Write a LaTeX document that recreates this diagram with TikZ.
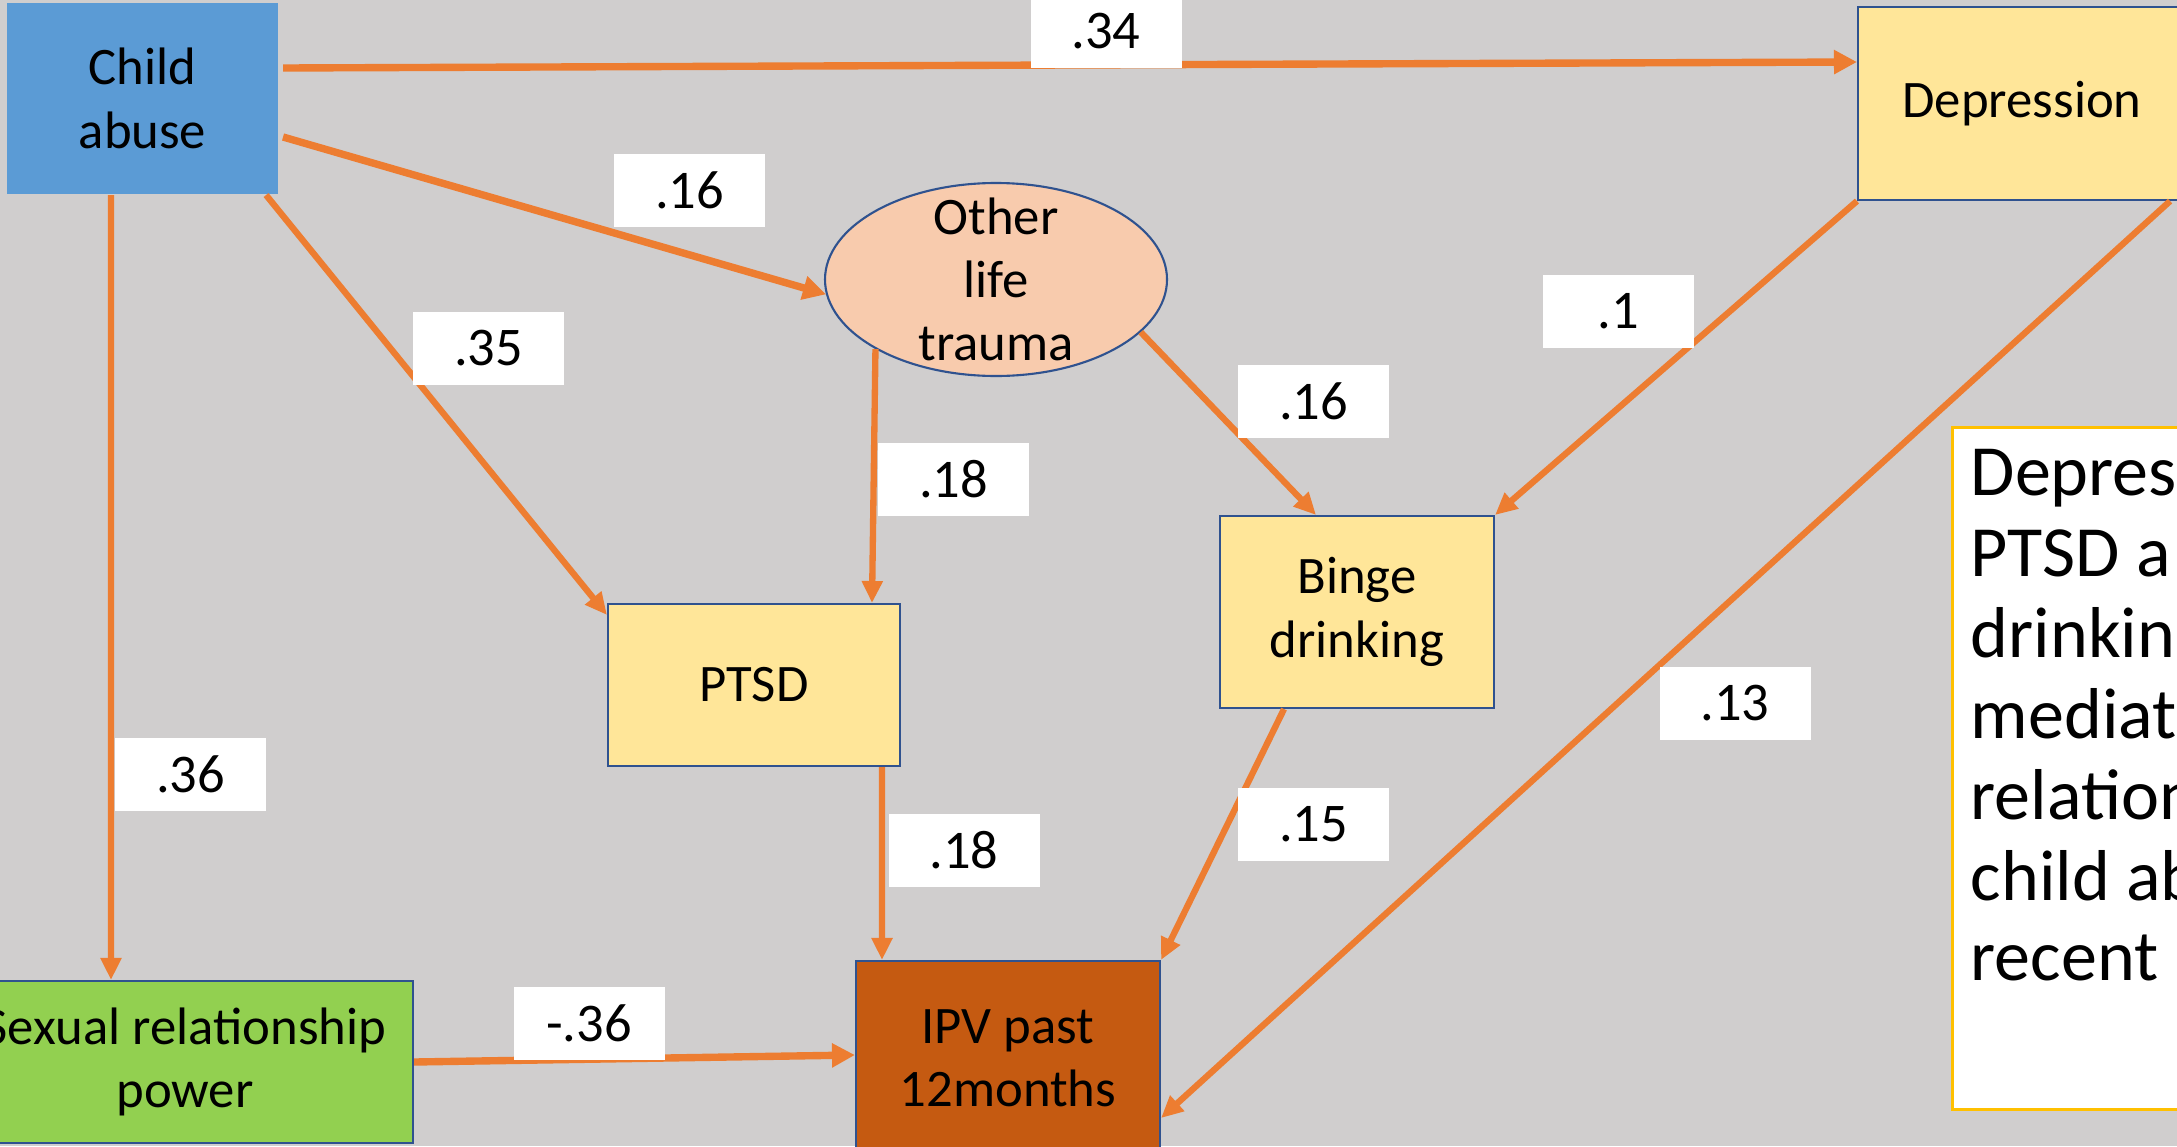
\documentclass[tikz,border=0pt]{standalone}
\usepackage{fontspec}
\setmainfont{Carlito}
\usetikzlibrary{positioning,arrows.meta,shapes.geometric}

\definecolor{bggray}{HTML}{D0CECE}
\definecolor{linkorange}{HTML}{ED7D31}
\definecolor{edgeblue}{HTML}{2F528F}
\definecolor{abuseblue}{HTML}{5B9BD5}
\definecolor{paleyellow}{HTML}{FFE699}
\definecolor{peach}{HTML}{F8CBAD}
\definecolor{rust}{HTML}{C55A11}
\definecolor{grassgreen}{HTML}{92D050}
\definecolor{notegold}{HTML}{FFC000}

\begin{document}
\begin{tikzpicture}[y=-1cm,
  box/.style={draw=edgeblue, line width=0.6pt, rectangle, align=center, inner sep=0pt, font=\fontsize{15}{18}\selectfont},
  coef/.style={fill=white, minimum width=1.51cm, minimum height=0.73cm, inner sep=0pt, font=\fontsize{15.5}{18}\selectfont},
  link/.style={draw=linkorange, line width=1.8pt, -{Triangle[length=0.22cm,width=0.2cm]}},
  biglink/.style={draw=linkorange, line width=2.1pt, -{Triangle[length=0.23cm,width=0.23cm]}}]
  \path[use as bounding box] (0,0) rectangle (21.77,11.46);
  \clip (0,0) rectangle (21.77,11.46);
  \fill[bggray] (0,0) rectangle (21.77,11.46);
  % Blocks
  \node[box, draw=none, fill=abuseblue, minimum width=2.71cm, minimum height=1.91cm] (abuse) at (1.425,0.985) {Child\\abuse};
  \node[box, fill=paleyellow, minimum width=3.28cm, minimum height=1.93cm] (depr) at (20.22,1.035) {Depression};
  \node[draw=edgeblue, line width=0.6pt, ellipse, fill=peach, minimum width=3.42cm, minimum height=1.93cm, inner xsep=0pt, inner ysep=-0.3cm, align=center, font=\fontsize{15}{18}\selectfont] (trauma) at (9.96,2.795) {Other\\life\\trauma};
  \node[box, fill=paleyellow, minimum width=2.92cm, minimum height=1.62cm] (ptsd) at (7.54,6.85) {PTSD};
  \node[box, fill=paleyellow, minimum width=2.74cm, minimum height=1.92cm] (binge) at (13.57,6.12) {Binge\\drinking};
  \node[box, fill=grassgreen, minimum width=4.56cm, minimum height=1.62cm] (srp) at (1.85,10.62) {Sexual relationship\\power};
  \node[box, fill=rust, minimum width=3.04cm, minimum height=1.94cm] (ipv) at (10.08,10.58) {IPV past\\12months};
  % Note
  \node[draw=notegold, line width=0.8pt, fill=white, anchor=north west, minimum width=3cm, minimum height=6.82cm] (note) at (19.51,4.26) {};
  \node[anchor=north west, inner sep=0pt, align=left, font=\fontsize{20.5}{23}\selectfont] (notetext) at ([xshift=0.19cm,yshift=-0.23cm]note.north west) {Depress\\PTSD a\\drinking\\mediate\\relation\\child ab\\recent};
  % Connections
  \draw[biglink] ([xshift=0.04cm,yshift=0.305cm]abuse.east) -- ([yshift=0.415cm]depr.west);
  \draw[biglink] ([xshift=0.04cm,yshift=-0.385cm]abuse.east) -- (trauma.185);
  \draw[link] ([xshift=-0.13cm]abuse.south east) -- ([yshift=-0.12cm]ptsd.north west);
  \draw[link] ([xshift=-0.315cm]abuse.south) -- ([xshift=-0.74cm]srp.north);
  \draw[link] (trauma.210) -- ([xshift=1.18cm]ptsd.north);
  \draw[link] (trauma.-20) -- ([xshift=-0.41cm]binge.north);
  \draw[link] (depr.south west) -- (binge.north east);
  \draw[link] ([xshift=-0.17cm]depr.south east) -- ([yshift=-0.6cm]ipv.east);
  \draw[link] ([xshift=1.28cm]ptsd.south) -- ([xshift=-1.26cm]ipv.north);
  \draw[link] ([xshift=-0.73cm]binge.south) -- (ipv.north east);
  \draw[biglink] (srp.east) -- ([yshift=0.03cm]ipv.west);
  % Coefficients
  \node[coef] (c34) at (11.06,0.31) {.34};
  \node[coef] (c16a) at (6.895,1.90) {.16};
  \node[coef] (c35) at (4.885,3.485) {.35};
  \node[coef] (c18a) at (9.535,4.79) {.18};
  \node[coef] (c16b) at (13.135,4.015) {.16};
  \node[coef] (c1) at (16.185,3.115) {.1};
  \node[coef] (c13) at (17.35,7.035) {.13};
  \node[coef] (c36a) at (1.905,7.745) {.36};
  \node[coef] (c18b) at (9.64,8.505) {.18};
  \node[coef] (c15) at (13.135,8.245) {.15};
  \node[coef] (c36b) at (5.89,10.235) {-.36};
\end{tikzpicture}
\end{document}
